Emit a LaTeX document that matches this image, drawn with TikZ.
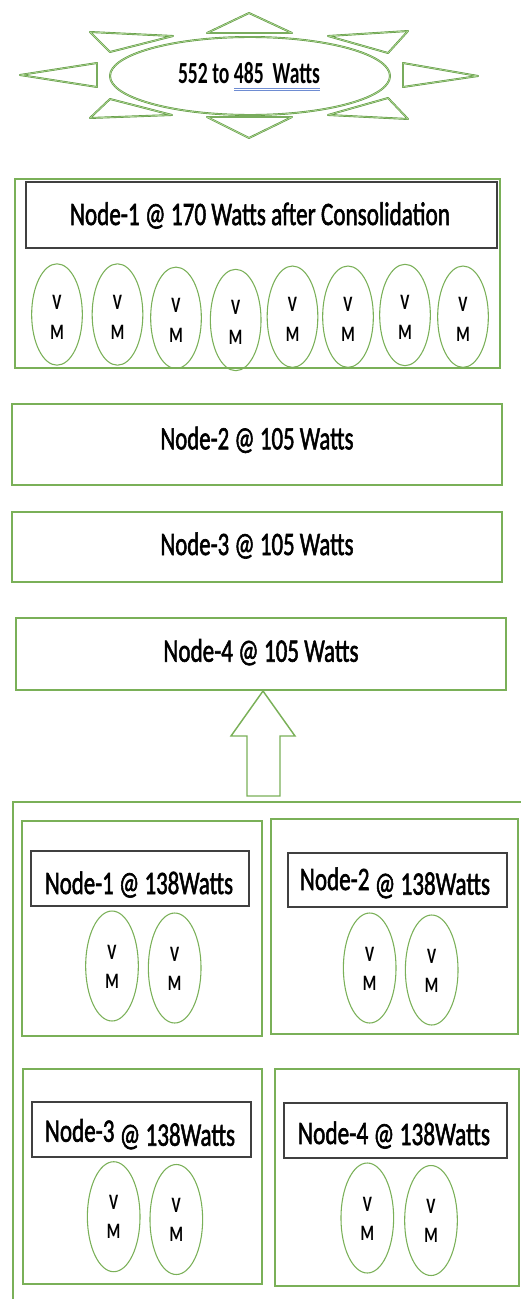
\documentclass[tikz,border=0pt]{standalone}
\usepackage{fontspec}
\setmainfont{Carlito}
\newfontfamily\heavy{Carlito}[FakeBold=2]
\usepackage{graphicx}
\usetikzlibrary{shapes.geometric,fit}
\definecolor{gline}{RGB}{122,176,88}
\definecolor{sunDark}{RGB}{92,150,62}
\definecolor{sunLight}{RGB}{175,215,150}
\definecolor{lblline}{RGB}{64,64,64}
\definecolor{spell}{RGB}{110,140,210}
\newcommand{\fitw}[3]{\resizebox{#1}{\height}{\fontsize{#2}{#2}\selectfont #3}}
\newcommand{\narrow}[1]{\scalebox{0.7}[1]{#1}}
\begin{document}
\begin{tikzpicture}[x=0.75pt,y=-0.75pt,
  gbox/.style={draw=gline, line width=1.1pt, inner sep=0pt, rectangle},
  lbox/.style={draw=lblline, line width=1pt, inner sep=0pt, rectangle, fill=white},
  vmletter/.style={inner sep=0pt, font=\fontsize{16.5}{16.5}\selectfont\bfseries},
  vmshape/.style={ellipse, draw=gline, line width=0.8pt, inner sep=0pt},
  vm/.style={vmshape, minimum width=38pt, minimum height=76pt,
    label={[vmletter, yshift=9.4pt]center:\narrow{V}},
    label={[vmletter, yshift=-13.1pt]center:\narrow{M}}},
  vmb/.style={vmshape, minimum width=39.5pt, minimum height=82.5pt,
    label={[vmletter, yshift=10.5pt]center:\narrow{V}},
    label={[vmletter, yshift=-11.25pt]center:\narrow{M}}},
  ttl/.style={anchor=base, inner sep=0pt, font=\heavy},
  sunline/.style={draw=sunDark, line width=0.45pt, double=sunLight, double distance=0.55pt, line join=round},
  arrowline/.style={draw=gline, line width=1.1pt, fill=white, line join=miter},
]
\useasboundingbox (0,0) rectangle (521,1299);

% ---------- sun ----------
\coordinate (suntop) at (249,13);
\draw[sunline] (suntop) -- (207,33) -- (292,33) -- cycle;
\draw[sunline] (249,138) -- (207,117) -- (292,117) -- cycle;
\draw[sunline] (20,75) -- (97,63) -- (97,87) -- cycle;
\draw[sunline] (478,76) -- (403,63) -- (403,87) -- cycle;
\draw[sunline] (90,32) -- (173,36) -- (110,52) -- cycle;
\draw[sunline] (408,31) -- (328,36) -- (388,53) -- cycle;
\draw[sunline] (90,118) -- (110,99) -- (172,115) -- cycle;
\draw[sunline] (408,119) -- (388,98) -- (328,115) -- cycle;
\node[ellipse, sunline, fill=white, minimum width=210pt, minimum height=58.5pt, inner sep=0pt] (sun) at (250,76) {};
\node[ttl, font=\bfseries] (suntxt) at (249,83) {\fitw{106.5pt}{23}{552 to 485\ \ Watts}};
\draw[spell, line width=0.6pt] (234,88) -- (320,88);
\draw[spell, line width=0.6pt] (234,90.5) -- (320,90.5);

% ---------- Node-1 after consolidation ----------
\node[gbox, fit={(15,179)(500,368)}] (n1outer) {};
\node[lbox, fit={(26,182)(497,248)}] (n1lbl) {};
\node[ttl] (n1txt) at (260,225) {\fitw{285pt}{24.5}{Node-1 @ 170 Watts after Consolidation}};
\foreach \i/\x/\y in {1/57/314.5, 2/117.5/314.5, 3/176/317.8, 4/235.7/320, 5/292.5/316.7, 6/348/316.7, 7/405/315, 8/463/316.7}
  \node[vm] (vm\i) at (\x,\y) {};

% ---------- Nodes 2-4 ----------
\node[gbox, fit={(12,404)(502,485)}] (n2) {};
\node[ttl] (n2txt) at (257,449.3) {\fitw{144.75pt}{24.5}{Node-2 @ 105 Watts}};
\node[gbox, fit={(12,512)(502,582)}] (n3) {};
\node[ttl] (n3txt) at (257,555) {\fitw{144.75pt}{24.5}{Node-3 @ 105 Watts}};
\node[gbox, fit={(16,618)(506,690)}] (n4) {};
\node[ttl] (n4txt) at (261,661.7) {\fitw{146.25pt}{24.5}{Node-4 @ 105 Watts}};

% ---------- block arrow ----------
\coordinate (atip) at (263,691);
\draw[arrowline] (atip) -- ++(32,45) -- ++(-15,0) -- ++(0,60) -- ++(-33,0) -- ++(0,-60) -- ++(-16,0) -- cycle;

% ---------- container ----------
\coordinate (ctl) at (13,802);
\coordinate (ctr) at (521,802);
\coordinate (cbl) at (13,1299);
\draw[draw=gline, line width=1.1pt] (ctr) -- (ctl) -- (cbl);

% sub A
\node[gbox, fit={(22,821)(262,1036)}] (subA) {};
\node[lbox, fit={(31,851)(249,906)}] (lblA) {};
\node[ttl] (txtA) at (139,894) {\fitw{141pt}{24.5}{Node-1 @ 138Watts}};
\node[vmb] (a1) at (112,966) {};
\node[vmb] (a2) at (174.7,968) {};

% sub B
\node[gbox, fit={(271,819)(518,1034)}] (subB) {};
\node[lbox, fit={(288,853)(507,907)}] (lblB) {};
\node[ttl] (txtB) at (395,890) {\fitw{142.5pt}{24.5}{Node-2 \raisebox{-3.5pt}{@ 138Watts}}};
\node[vmb] (b1) at (369.7,968) {};
\node[vmb] (b2) at (431.7,970) {};

% sub C
\node[gbox, fit={(23,1069)(262,1284)}] (subC) {};
\node[lbox, fit={(32,1102)(251,1157)}] (lblC) {};
\node[ttl] (txtC) at (140,1141.7) {\fitw{142.5pt}{24.5}{Node-3 \raisebox{-3pt}{@ 138Watts}}};
\node[vmb] (c1) at (113.7,1216.7) {};
\node[vmb] (c2) at (176.3,1219.5) {};

% sub D
\node[gbox, fit={(275,1069)(519,1286)}] (subD) {};
\node[lbox, fit={(284,1103)(507,1158)}] (lblD) {};
\node[ttl] (txtD) at (394,1144) {\fitw{144pt}{24.5}{Node-4 \raisebox{-0.75pt}{@ 138Watts}}};
\node[vmb] (d1) at (367.3,1218) {};
\node[vmb] (d2) at (431,1220.5) {};
\end{tikzpicture}
\end{document}
